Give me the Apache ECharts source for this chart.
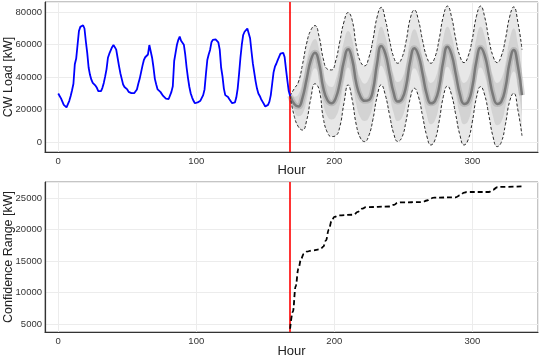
<!DOCTYPE html>
<html>
<head>
<meta charset="utf-8">
<script src="https://cdn.jsdelivr.net/npm/echarts@6.0.0/dist/echarts.min.js"></script>
<style>
html,body{margin:0;padding:0;background:#ffffff;}
#chart{width:540px;height:360px;}
</style>
</head>
<body>
<div id="chart"></div>
<script>
// Measured hourly CW load, hours 0..168
const histLoad = [
30000,28500,27000,25000,23000,22000,21500,22500,25500,28500,
32000,36000,48000,51500,60000,68500,71000,71800,72000,70000,
62000,55000,46000,41500,38500,36500,35500,34800,33500,31500,
30800,31500,33500,36500,40500,45000,52000,54500,56500,58500,
59800,58500,57000,52000,47000,42500,39000,35500,34000,33000,
32500,31000,30200,30200,30300,30200,30800,32500,36000,39000,
43000,47000,50500,52300,52500,54000,59800,59500,52000,46000,
39000,35500,32500,31800,31000,30000,28500,27500,26800,26500,
26600,27800,31000,34500,50000,55000,60000,63000,65000,62500,
62000,60000,54000,46000,39500,34000,30000,27500,25500,24000,
23000,24500,25200,25600,26000,29000,32500,42000,50600,54000,
56800,61500,63000,63400,63300,63200,61500,57000,46000,40500,
33000,29000,28500,27800,26500,25500,24000,23000,24500,27500,
33000,42000,52000,60000,66000,68000,69000,70000,70800,64000,
56000,48500,43000,37500,33000,30000,28500,26500,25000,23500,
22000,21700,23000,25000,29000,36000,43000,46500,48300,50500,
52500,54500,55700,55000,52500,45000,38000,31500,28500
];

// Forecast (hours 168..336, every 3 h)
const fcHours = [168,171,174,177,180,183,186,189,192,195,198,201,204,207,210,213,216,219,222,225,228,231,234,237,240,243,246,249,252,255,258,261,264,267,270,273,276,279,282,285,288,291,294,297,300,303,306,309,312,315,318,321,324,327,330,333,336];
const fcMean = [28500,23500,22000,27500,39000,50500,55000,48500,33500,26000,24000,27000,36500,50000,57200,51000,36000,28000,25500,26000,32000,48500,59300,54500,42500,30500,25000,26500,34500,50000,57800,53500,42000,29500,24000,25500,34000,50000,58800,54000,42000,29500,23600,25000,34000,50000,58200,53500,41500,29000,23600,25000,33500,49000,56800,47000,29000];
const fcUpper = [28500,33000,37000,48000,61000,69000,71800,65000,51500,45000,44500,50000,62000,74000,79800,75000,59000,49500,47000,52000,63000,77000,83000,75500,63000,52500,48600,52000,62000,76000,81400,75000,62500,52500,48600,52500,63500,77500,83800,77000,63500,53000,49000,53000,63500,77500,83800,77000,63500,53000,49000,53000,63500,77000,83300,74000,57000];
const fcLower = [28500,16000,9500,7500,13500,27000,36000,32500,15000,6000,3500,4000,9500,24000,35300,26000,10500,2500,400,4000,14000,28000,35300,29000,17000,5500,500,3000,13000,27000,33200,28000,16000,4000,-1700,1500,13000,28000,34600,29000,17000,4500,-1700,1500,12500,27500,34200,29000,16500,3500,-2700,0,11000,25000,30200,20000,4000];
// Dense part of the sample spread
const fcBandHi = [28500,28000,29500,37500,50000,60000,63500,57000,42500,35500,34000,38500,49000,62000,68500,63000,47500,39000,36000,39000,47500,63000,71000,65000,53000,41500,37000,39000,48000,63000,69500,64000,52000,41000,36500,39000,49000,64000,71000,65500,53000,41000,36500,39000,49000,64000,71000,65000,52500,41000,36500,39000,48500,63000,70000,60500,43000];
const fcBandLo = [28500,19500,16000,17500,26000,39000,45500,40500,24000,16000,14000,15500,23000,37000,46000,38500,23000,15000,13000,15000,23000,38000,47000,42000,30000,18000,13000,15000,24000,38500,45500,41000,29000,17000,11000,13500,23500,39000,46500,41500,29500,17000,11000,13000,23000,39000,46000,41000,29000,16000,10500,12500,22000,37000,43500,33500,16500];

// Confidence range
const rangeHours = [168,170,172,174,176,178,180,184,190,192,194,196,198,200,203,214,217,220,223,240,243,246,248,264,267,270,272,288,291,294,296,312,315,318,320,337];
const rangeValues = [4300,7000,11000,13800,15400,16200,16500,16700,16900,17300,18300,20000,21300,22000,22250,22350,22800,23300,23550,23650,23900,24250,24300,24350,24600,24950,25050,25100,25400,25850,25950,25950,26300,26700,26750,26850];

const xTicks = [0,100,200,300];
const loadTicks = [0,20000,40000,60000,80000];
const rangeTicks = [5000,10000,15000,20000,25000];
const forecastStart = 168;

const FONT = 'Liberation Sans';
const chart = echarts.init(document.getElementById('chart'), null, {renderer:'canvas'});

const xy = (hours, vals) => hours.map((h,i)=>[h, vals[i]]);
const yx = (hours, vals) => hours.map((h,i)=>[vals[i], h]);
const histPairs = histLoad.map((v,i)=>[i,v]);
const envWidth = fcUpper.map((v,i)=>v - fcLower[i]);
const bandWidth = fcBandHi.map((v,i)=>v - fcBandLo[i]);

function xAxisDef(gi, gap){
  return {
    type:'value', gridIndex:gi, min:-9.6, max:347.6,
    name:'Hour', nameLocation:'middle', nameGap:gap, nameMoveOverlap:false,
    nameTextStyle:{fontFamily:FONT, fontSize:13, color:'#222'},
    axisLine:{show:true, onZero:false, lineStyle:{color:'#333', width:1.2}},
    axisTick:{show:false},
    axisLabel:{fontFamily:FONT, fontSize:9.5, color:'#333', margin:4,
      showMinLabel:false, showMaxLabel:false,
      formatter: v => xTicks.includes(v) ? String(v) : ''},
    splitLine:{show:true, lineStyle:{color:'#ececec', width:1}}
  };
}
function yAxisDef(gi, mn, mx, nm, ticks){
  return {
    type:'value', gridIndex:gi, min:mn, max:mx,
    name:nm, nameLocation:'middle', nameGap:30, nameMoveOverlap:false,
    nameTextStyle:{fontFamily:FONT, fontSize:12.5, color:'#222'},
    axisLine:{show:true, onZero:false, lineStyle:{color:'#333', width:1.2}},
    axisTick:{show:false},
    axisLabel:{fontFamily:FONT, fontSize:9.5, color:'#333', margin:3,
      showMinLabel:false, showMaxLabel:false,
      formatter: v => ticks.includes(v) ? String(v) : ''},
    splitLine:{show:true, lineStyle:{color:'#ececec', width:1}}
  };
}
const base = {type:'line', symbol:'none', silent:true, animation:false, xAxisIndex:0, yAxisIndex:0};
const redLine = {symbol:['none','none'], silent:true, animation:false, label:{show:false},
  lineStyle:{color:'#ff0000', width:1.6, type:'solid'}, data:[{xAxis:forecastStart}]};

chart.setOption({
  animation:false,
  backgroundColor:'#ffffff',
  grid:[
    {left:45, top:2, width:493, height:150, show:true, borderColor:'#8a8a8a', borderWidth:1, containLabel:false, outerBoundsMode:'none'},
    {left:45, top:182, width:493, height:150, show:true, borderColor:'#8a8a8a', borderWidth:1, containLabel:false, outerBoundsMode:'none'}
  ],
  xAxis:[xAxisDef(0, 12), xAxisDef(1, 13)],
  yAxis:[yAxisDef(0, -6000, 86300, 'CW Load [kW]', loadTicks),
         yAxisDef(1, 3780, 27530, 'Confidence Range [kW]', rangeTicks)],
  series:[
    {...base, smooth:0.5, data:yx(fcHours, fcLower), encode:{x:1, y:0}, stack:'env', stackStrategy:'all',
      lineStyle:{width:0, opacity:0}, z:1},
    {...base, smooth:0.5, data:yx(fcHours, envWidth), encode:{x:1, y:0}, stack:'env', stackStrategy:'all',
      lineStyle:{width:0, opacity:0}, areaStyle:{color:'#e7e7e7', opacity:1}, z:1},
    {...base, smooth:0.5, data:yx(fcHours, fcBandLo), encode:{x:1, y:0}, stack:'band', stackStrategy:'all',
      lineStyle:{width:0, opacity:0}, z:2},
    {...base, smooth:0.5, data:yx(fcHours, bandWidth), encode:{x:1, y:0}, stack:'band', stackStrategy:'all',
      lineStyle:{width:0, opacity:0}, areaStyle:{color:'rgba(160,160,160,0.28)', opacity:1}, z:2},
    {...base, smooth:0.5, data:xy(fcHours, fcMean), lineStyle:{color:'rgba(140,140,140,0.35)', width:6}, z:3},
    {...base, smooth:0.5, data:xy(fcHours, fcMean), lineStyle:{color:'#7a7a7a', width:2.5}, z:4},
    {...base, smooth:0.5, data:xy(fcHours, fcUpper), lineStyle:{color:'#2a2a2a', width:1, type:[3,2]}, z:5},
    {...base, smooth:0.5, data:xy(fcHours, fcLower), lineStyle:{color:'#2a2a2a', width:1, type:[3,2]}, z:5},
    {...base, data:histPairs, lineStyle:{color:'#0000ff', width:1.8}, z:6, markLine:redLine},
    {...base, xAxisIndex:1, yAxisIndex:1, smooth:0.4, smoothMonotone:'x', data:xy(rangeHours, rangeValues),
      lineStyle:{color:'#000000', width:1.8, type:[5,3]}, z:6, markLine:redLine}
  ]
});
</script>
</body>
</html>
